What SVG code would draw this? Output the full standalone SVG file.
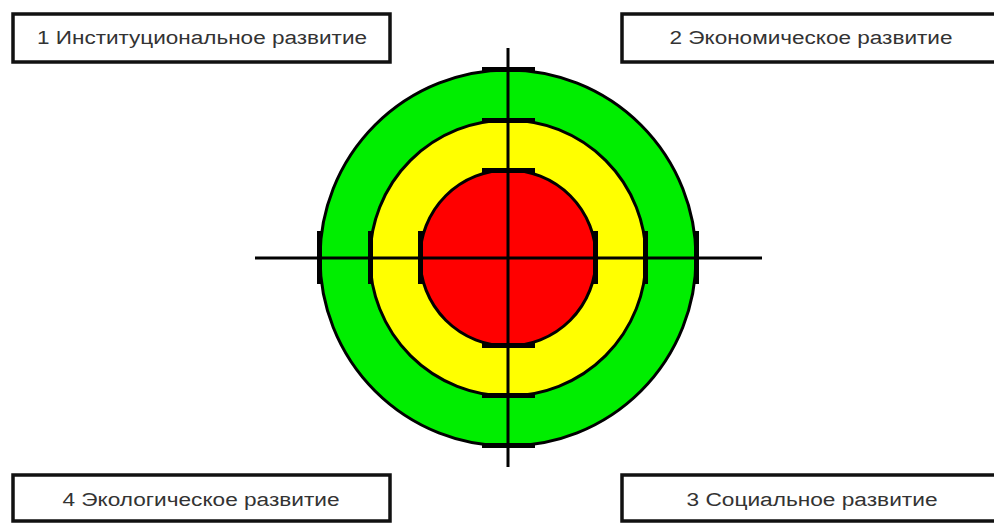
<svg xmlns="http://www.w3.org/2000/svg" width="994" height="523" viewBox="0 0 994 523">
<style>
.box{fill:#fff;stroke:#111;stroke-width:3.5}
.lbl{font-family:"Liberation Sans",Arial,sans-serif;font-size:18px;fill:#333;text-anchor:middle}
.ring{stroke:#000;stroke-width:3}
.tick{fill:#000}
.axis{stroke:#000;stroke-width:3;fill:none}
</style>
<rect width="994" height="523" fill="#fff"/>
<g id="node1"><rect class="box" x="13" y="14" width="377" height="48"/><text class="lbl" x="202" y="44" textLength="330" lengthAdjust="spacingAndGlyphs">1 Институциональное развитие</text></g>
<g id="node2"><rect class="box" x="622" y="14" width="380" height="48"/><text class="lbl" x="811" y="44" textLength="283" lengthAdjust="spacingAndGlyphs">2 Экономическое развитие</text></g>
<g id="node4"><rect class="box" x="13" y="475" width="377" height="46"/><text class="lbl" x="201" y="506" textLength="277" lengthAdjust="spacingAndGlyphs">4 Экологическое развитие</text></g>
<g id="node3"><rect class="box" x="622" y="475" width="380" height="46"/><text class="lbl" x="812" y="506" textLength="251" lengthAdjust="spacingAndGlyphs">3 Социальное развитие</text></g>
<g id="target">
<circle class="ring" cx="508" cy="258" r="188" fill="#00ee00"/>
<circle class="ring" cx="508" cy="258" r="138" fill="#ffff00"/>
<circle class="ring" cx="508" cy="258" r="88" fill="#ff0000"/>
<g class="tick">
<rect x="482" y="67" width="53" height="5"/>
<rect x="482" y="443" width="53" height="5"/>
<rect x="317" y="231" width="5" height="53"/>
<rect x="694" y="231" width="5" height="53"/>
<rect x="482" y="118" width="53" height="5"/>
<rect x="482" y="393" width="53" height="5"/>
<rect x="368" y="231" width="5" height="53"/>
<rect x="643" y="231" width="5" height="53"/>
<rect x="482" y="168" width="53" height="5"/>
<rect x="482" y="343" width="53" height="5"/>
<rect x="418" y="231" width="5" height="53"/>
<rect x="593" y="231" width="5" height="53"/>
</g>
</g>
<g id="connectors">
<line class="axis" x1="255" y1="258" x2="762" y2="258"/>
<line class="axis" x1="508" y1="48" x2="508" y2="467"/>
</g>
</svg>
